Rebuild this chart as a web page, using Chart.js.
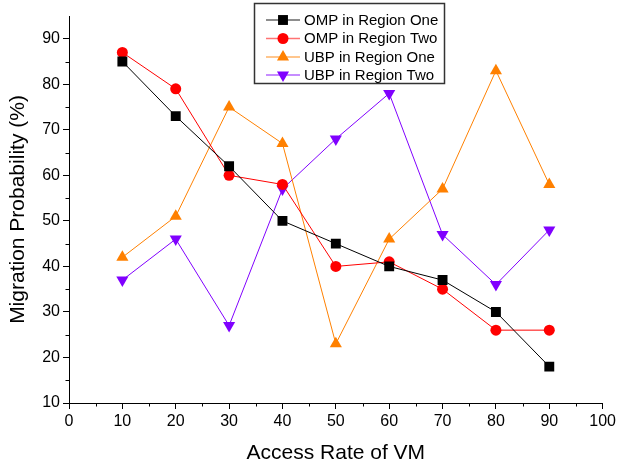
<!DOCTYPE html>
<html><head><meta charset="utf-8">
<script src="https://cdn.jsdelivr.net/npm/chart.js@4/dist/chart.umd.min.js"></script>
<style>html,body{margin:0;padding:0;background:#fff}#wrap{width:619px;height:466px}</style>
</head><body><div id="wrap"><canvas id="c" width="619" height="466"></canvas></div>
<script>
const accessRates = [10, 20, 30, 40, 50, 60, 70, 80, 90];
const seriesNames = ["OMP in Region One", "OMP in Region Two", "UBP in Region One", "UBP in Region Two"];
const ompRegionOne = [85, 73, 62, 50, 45, 40, 37, 30, 18];
const ompRegionTwo = [87, 79, 60, 58, 40, 41, 35, 26, 26];
const ubpRegionOne = [42, 51, 75, 67, 23, 46, 57, 83, 58];
const ubpRegionTwo = [37, 46, 27, 57, 68, 78, 47, 36, 48];
const xTicks = [0, 10, 20, 30, 40, 50, 60, 70, 80, 90, 100];
const yTicks = [10, 20, 30, 40, 50, 60, 70, 80, 90];

const FONT = "'Liberation Sans', Arial, sans-serif";
const toPts = vals => vals.map((v, i) => ({x: accessRates[i], y: v}));
const styles = [
  {color: '#000000', legendColor: 'rgba(0,0,0,0.6)', pointStyle: 'rect', radius: 7, rotation: 0},
  {color: '#FF0000', legendColor: 'rgba(255,0,0,0.55)', pointStyle: 'circle', radius: 5.5, rotation: 0},
  {color: '#FF8000', legendColor: 'rgba(255,128,0,0.6)', pointStyle: 'triangle', radius: 7, rotation: 0},
  {color: '#8000FF', legendColor: 'rgba(128,0,255,0.6)', pointStyle: 'triangle', radius: 7, rotation: 180}
];
const allSeries = [ompRegionOne, ompRegionTwo, ubpRegionOne, ubpRegionTwo];

const datasets = allSeries.map((vals, i) => ({
  label: seriesNames[i],
  data: toPts(vals),
  borderColor: styles[i].color,
  backgroundColor: styles[i].color,
  borderWidth: 1,
  pointStyle: styles[i].pointStyle,
  pointRadius: styles[i].radius,
  pointRotation: styles[i].rotation,
  pointBorderWidth: 0,
  pointBackgroundColor: styles[i].color,
  tension: 0,
  legendColor: styles[i].legendColor
}));

const minorTicks = {
  id: 'minorTicks',
  afterDraw(chart) {
    const ctx = chart.ctx;
    const xs = chart.scales.x, ys = chart.scales.y;
    ctx.save();
    ctx.strokeStyle = '#000';
    ctx.lineWidth = 1;
    ctx.beginPath();
    for (let v = 5; v < 100; v += 10) {
      const px = Math.round(xs.getPixelForValue(v)) + 0.5;
      ctx.moveTo(px, ys.bottom); ctx.lineTo(px, ys.bottom + 3.5);
    }
    for (let v = 15; v < 95; v += 10) {
      const py = Math.round(ys.getPixelForValue(v)) + 0.5;
      ctx.moveTo(xs.left, py); ctx.lineTo(xs.left - 3.5, py);
    }
    ctx.stroke();
    ctx.restore();
  }
};

const boxLegend = {
  id: 'boxLegend',
  afterDraw(chart) {
    const ctx = chart.ctx;
    ctx.save();
    const bx = 254.5, by = 3.5, bw = 190, bh = 80;
    ctx.fillStyle = '#fff';
    ctx.fillRect(bx, by, bw, bh);
    ctx.strokeStyle = '#333';
    ctx.lineWidth = 1.5;
    ctx.strokeRect(bx, by, bw, bh);
    const rowsY = [20, 38.5, 57, 75];
    chart.data.datasets.forEach((ds, i) => {
      const y = rowsY[i];
      ctx.strokeStyle = ds.legendColor;
      ctx.lineWidth = 1.5;
      ctx.beginPath(); ctx.moveTo(266, y); ctx.lineTo(300, y); ctx.stroke();
      ctx.fillStyle = ds.pointBackgroundColor;
      Chart.helpers.drawPoint(ctx, {pointStyle: ds.pointStyle, radius: ds.pointRadius, rotation: ds.pointRotation, borderWidth: 0}, 283, y);
      ctx.fillStyle = '#000';
      ctx.font = '15px ' + FONT;
      ctx.textBaseline = 'middle';
      ctx.textAlign = 'left';
      ctx.fillText(ds.label, 304, y + 0.5);
    });
    ctx.restore();
  }
};

new Chart(document.getElementById('c'), {
  type: 'line',
  data: {datasets},
  options: {
    responsive: false,
    animation: false,
    devicePixelRatio: 1,
    layout: {padding: {top: 16, right: 15, bottom: 0, left: 0}},
    plugins: {legend: {display: false}, tooltip: {enabled: false}},
    scales: {
      x: {
        type: 'linear', min: 0, max: 100,
        afterBuildTicks: s => { s.ticks = xTicks.map(v => ({value: v})); },
        afterFit: s => { s.height = 63; },
        grid: {drawOnChartArea: false, drawTicks: true, tickLength: 6, tickColor: '#000'},
        border: {display: true, color: '#000', width: 1},
        ticks: {color: '#000', font: {family: FONT, size: 16}, padding: 3, maxRotation: 0},
        title: {display: true, text: 'Access Rate of VM', color: '#000', font: {family: FONT, size: 21}, padding: {top: 2, bottom: 0}}
      },
      y: {
        type: 'linear', min: 10, max: 95,
        afterBuildTicks: s => { s.ticks = yTicks.map(v => ({value: v})); },
        afterFit: s => { s.width = 69; },
        grid: {drawOnChartArea: false, drawTicks: true, tickLength: 6, tickColor: '#000'},
        border: {display: true, color: '#000', width: 1},
        ticks: {color: '#000', font: {family: FONT, size: 16}, padding: 3},
        title: {display: true, text: 'Migration Probability (%)', color: '#000', font: {family: FONT, size: 21}, padding: {top: 6, bottom: 4}}
      }
    }
  },
  plugins: [minorTicks, boxLegend]
});
</script></body></html>
